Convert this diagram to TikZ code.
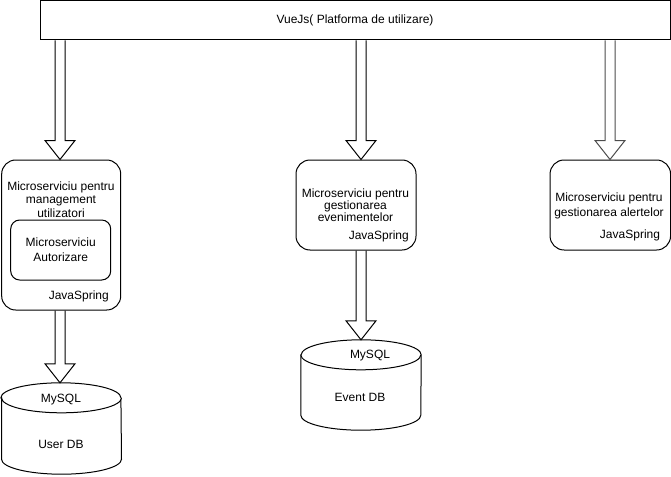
\documentclass[tikz,border=0pt]{standalone}
\usepackage{fontspec}
\setmainfont{Liberation Sans}
\usetikzlibrary{calc}
\newcommand{\blockarrow}[3][black]{%
  \draw[blockarr,draw=#1] let \p1=#2, \p2=#3 in
    (\x1-5pt,\y1) -- (\x1-5pt,\y2+19pt) -- (\x1-15pt,\y2+19pt) -- (\x2,\y2)
    -- (\x1+15pt,\y2+19pt) -- (\x1+5pt,\y2+19pt) -- (\x1+5pt,\y1);}
\newcommand{\dbcyl}[1]{%
  \draw[cylline] ([yshift=-15pt]#1.north west) -- ([yshift=15pt]#1.south west)
    arc[start angle=180,end angle=360,x radius=60pt,y radius=15pt]
    -- ([yshift=-15pt]#1.north east)
    arc[start angle=0,end angle=180,x radius=60pt,y radius=15pt] -- cycle;
  \draw[cylline] ([yshift=-15pt]#1.north west)
    arc[start angle=180,end angle=360,x radius=60pt,y radius=15pt];}
\begin{document}
\begin{tikzpicture}[x=1pt,y=1pt,
  every node/.style={font=\fontsize{12pt}{13.5pt}\selectfont},
  bar/.style={draw,line width=1pt,inner sep=0pt,minimum width=630pt,minimum height=39pt},
  msbox/.style={draw,line width=1pt,rounded corners=14pt,inner sep=0pt},
  innerbox/.style={draw,line width=1pt,rounded corners=9pt,inner sep=0pt,
    minimum width=100pt,minimum height=60pt,align=center,
    font=\fontsize{12pt}{15pt}\selectfont},
  txt/.style={inner sep=0pt,align=center},
  dbanchor/.style={inner sep=0pt,minimum width=120pt},
  blockarr/.style={line width=1pt,line join=miter},
  cylline/.style={line width=1pt,fill=white}]
\useasboundingbox (0,0) rectangle (671,-476);

% top bar
\node[bar] (top) at (355,-20.5) {VueJs( Platforma de utilizare)};

% left microservice
\node[msbox,minimum width=119pt,minimum height=150pt] (ms1) at (61.2,-235) {};
\node[txt] (ms1t) at (61,-199.5) {Microserviciu pentru\\management\\utilizatori};
\node[innerbox] (auth) at (60.7,-250) {Microserviciu\\Autorizare};
\node[txt,anchor=east] (ms1j) at (109,-296) {JavaSpring};

% middle microservice
\node[msbox,minimum width=120pt,minimum height=90pt] (ms2) at (356,-205) {};
\node[txt,font=\fontsize{12pt}{12pt}\selectfont] (ms2t) at (355.5,-205.5)
  {Microserviciu pentru\\gestionarea\\evenimentelor};
\node[txt,anchor=east] (ms2j) at (409,-236) {JavaSpring};

% right microservice
\node[msbox,minimum width=120.5pt,minimum height=90pt] (ms3) at (610.3,-205) {};
\node[txt,font=\fontsize{12pt}{15pt}\selectfont] (ms3t) at (609,-205.5)
  {Microserviciu pentru\\gestionarea alertelor};
\node[txt] (ms3j) at (630,-235) {JavaSpring};

% databases
\node[dbanchor,minimum width=119pt,minimum height=91pt] (udb) at (61.2,-428.5) {};
\dbcyl{udb}
\node[txt] (udbm) at (61,-400) {MySQL};
\node[txt] (udbn) at (61,-444) {User DB};

\node[dbanchor,minimum height=90pt] (edb) at (361,-385) {};
\dbcyl{edb}
\node[txt] (edbm) at (370,-356) {MySQL};
\node[txt] (edbn) at (360,-397.5) {Event DB};

% connectors
\coordinate (s1) at (top.south -| 60,0);
\coordinate (s2) at (top.south -| 361,0);
\coordinate (s3) at (top.south -| 610,0);
\coordinate (e1) at (s1 |- ms1.north);
\coordinate (e2) at (s2 |- ms2.north);
\coordinate (e3) at (s3 |- ms3.north);
\blockarrow{(s1)}{(e1)}
\blockarrow{(s2)}{(e2)}
\blockarrow[black!70]{(s3)}{(e3)}

\coordinate (d1) at (ms1.south -| 60,0);
\coordinate (f1) at (d1 |- udb.north);
\coordinate (d2) at (ms2.south -| 361,0);
\coordinate (f2) at (d2 |- edb.north);
\blockarrow{(d1)}{(f1)}
\blockarrow{(d2)}{(f2)}
\end{tikzpicture}
\end{document}
